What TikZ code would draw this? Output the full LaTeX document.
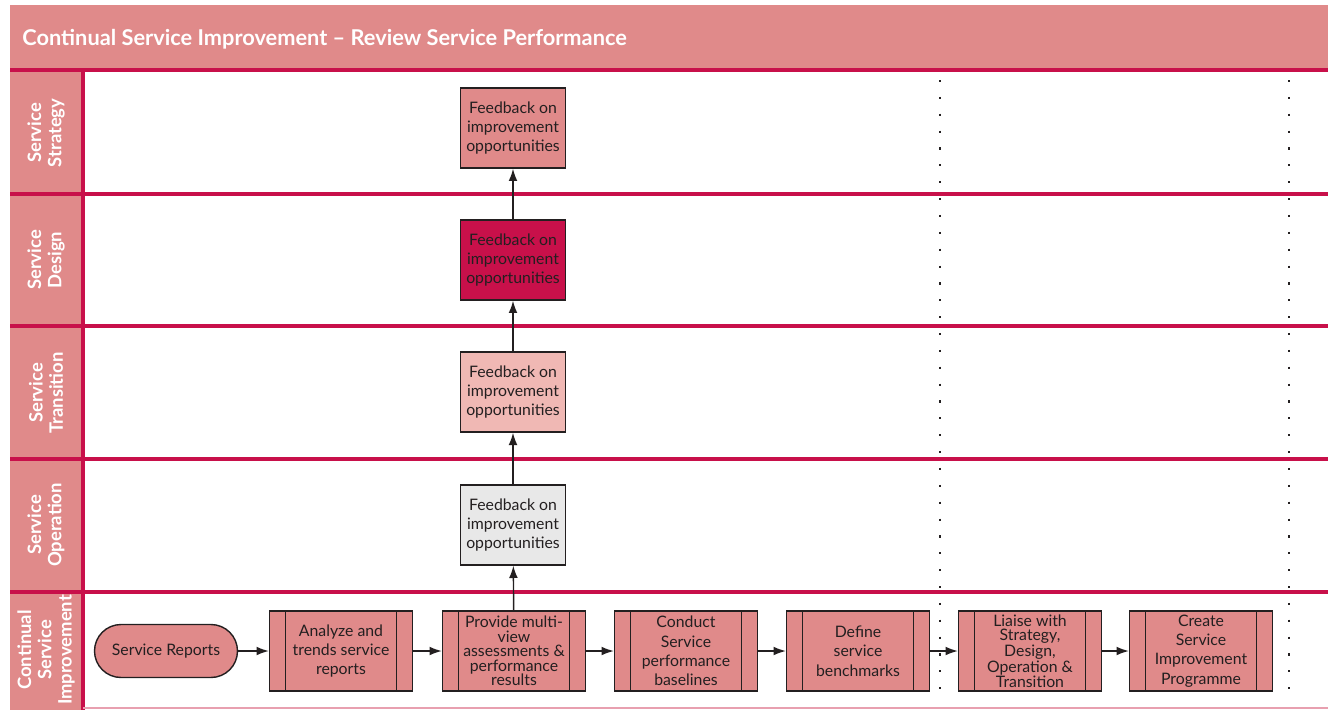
\documentclass[tikz,border=0pt]{standalone}
\usepackage{fontspec}
\setmainfont{Lato}
\usetikzlibrary{arrows.meta,positioning}
\definecolor{csipink}{RGB}{224,138,138}
\definecolor{csired}{RGB}{200,16,74}
\definecolor{csilight}{RGB}{240,184,180}
\definecolor{csigrey}{RGB}{232,232,232}
\definecolor{csitext}{RGB}{35,31,32}
\definecolor{csiline}{RGB}{232,160,176}
\begin{document}
\begin{tikzpicture}[x=0.02cm,y=-0.02cm,
  fb/.style={draw=csitext,line width=0.8pt,minimum width=2.1cm,minimum height=1.6cm,
    inner sep=0pt,align=center,text=csitext,font=\fontsize{9}{11}\selectfont},
  proc/.style={fb,fill=csipink,minimum width=2.86cm,
    path picture={\draw[csitext,line width=0.8pt]
      ([xshift=0.32cm]path picture bounding box.north west) -- ([xshift=0.32cm]path picture bounding box.south west)
      ([xshift=-0.32cm]path picture bounding box.north east) -- ([xshift=-0.32cm]path picture bounding box.south east);}},
  tight/.style={font=\fontsize{9}{8.2}\selectfont},
  lane/.style={rotate=90,text=white,align=center,font=\bfseries\fontsize{10.5}{11.5}\selectfont},
  flow/.style={-{Latex[length=7pt,width=5pt]},line width=0.8pt,draw=csitext}]
  \useasboundingbox (0,0) rectangle (1328,710);
  % header and lane column
  \fill[csipink] (10,5) rectangle (1328,70);
  \fill[csipink] (10,70) rectangle (82,710);
  \node[anchor=west,inner sep=0pt,text=white,font=\bfseries\fontsize{12.4}{15}\selectfont] (title) at (22,39)
    {Continual Service Improvement -- Review Service Performance};
  \foreach \y in {70,194,326,459,592}{
    \draw[csired,line width=1.8pt] (10,\y) -- (1328,\y);
  }
  \draw[csired,line width=1.8pt] (83,70) -- (83,710);
  \draw[csiline,line width=0.8pt] (83,708) -- (1328,708);
  % lane labels
  \foreach \y/\t [count=\i] in {133/{Service\\Strategy},260/{Service\\Design},
      393/{Service\\Transition},525/{Service\\Operation},650/{Continual\\Service\\Improvement}}{
    \node[lane] (lane\i) at (46,\y) {\t};
  }
  % dotted separators
  \coordinate (d1t) at (940,80);
  \coordinate (d1b) at (940,690);
  \coordinate (d2t) at (1289,80);
  \coordinate (d2b) at (1289,692);
  \draw[csitext,line width=1pt,dash pattern=on 1.2pt off 8.4pt] (d1t) -- (d1b);
  \draw[csitext,line width=1pt,dash pattern=on 1.2pt off 8.4pt] (d2t) -- (d2b);
  % feedback boxes
  \node[fb,fill=csipink] (fbst) at (513,128) {Feedback on\\improvement\\opportunities};
  \node[fb,fill=csired] (fbde) at (513,260) {Feedback on\\improvement\\opportunities};
  \node[fb,fill=csilight] (fbtr) at (513,392) {Feedback on\\improvement\\opportunities};
  \node[fb,fill=csigrey] (fbop) at (513,525) {Feedback on\\improvement\\opportunities};
  % continual service improvement lane
  \node[fb,fill=csipink,minimum width=2.86cm,minimum height=1.06cm,rounded corners=0.53cm] (rep) at (166,651) {Service Reports};
  \node[proc] (ana) at (341,651) {Analyze and\\trends service\\reports};
  \node[proc,tight] (prov) at (514,651) {Provide multi-\\view\\assessments \&\\performance\\results};
  \node[proc] (cond) at (686,651) {Conduct\\Service\\performance\\baselines};
  \node[proc] (def) at (858,651) {Define\\service\\benchmarks};
  \node[proc,tight] (lia) at (1030,651) {Liaise with\\Strategy,\\Design,\\Operation \&\\Transition};
  \node[proc] (cre) at (1201,651) {Create\\Service\\Improvement\\Programme};
  \draw[flow] (rep) -- (ana);
  \draw[flow] (ana) -- (prov);
  \draw[flow] (prov) -- (cond);
  \draw[flow] (cond) -- (def);
  \draw[flow] (def) -- (lia);
  \draw[flow] (lia) -- (cre);
  \draw[flow] (prov) -- (fbop);
  \draw[flow] (fbop) -- (fbtr);
  \draw[flow] (fbtr) -- (fbde);
  \draw[flow] (fbde) -- (fbst);
\end{tikzpicture}
\end{document}
